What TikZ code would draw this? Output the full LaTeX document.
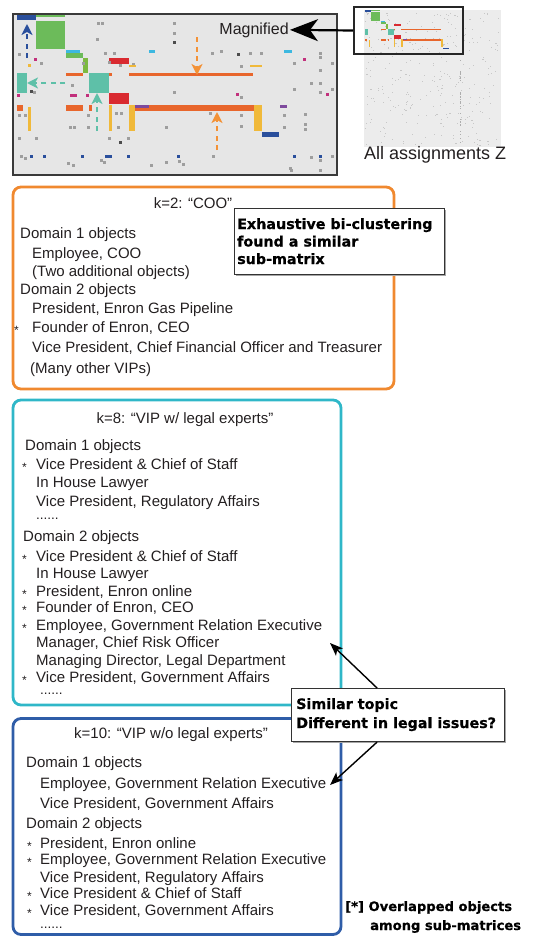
\documentclass[tikz,border=0pt]{standalone}
\usepackage{fontspec}
\setmainfont{Liberation Sans}
\newfontfamily\heavy{DejaVu Sans}[BoldFeatures={FakeBold=0.6}]
\usetikzlibrary{arrows.meta,calc}
\definecolor{txtc}{HTML}{231F20}
\definecolor{bgc}{HTML}{E6E6E6}
\definecolor{framec}{HTML}{3A3A3A}
\definecolor{cblue}{HTML}{2A4F9C}
\definecolor{cgreen}{HTML}{6CBB5A}
\definecolor{clime}{HTML}{7CB940}
\definecolor{ccyan}{HTML}{3DB8E0}
\definecolor{cteal}{HTML}{5EC0A8}
\definecolor{corange}{HTML}{E8662C}
\definecolor{carrow}{HTML}{F39237}
\definecolor{cred}{HTML}{D92A30}
\definecolor{cyellow}{HTML}{F0B93A}
\definecolor{cpurple}{HTML}{7E4A9D}
\definecolor{cmag}{HTML}{C2307C}
\definecolor{borange}{HTML}{F0892F}
\definecolor{bcyan}{HTML}{2FB7C8}
\definecolor{bblue}{HTML}{2F5DA8}
\newcommand\mtxblocks{%
  \fill[cblue] (17,15) rectangle (36,20);
  \fill[cgreen] (36,14.5) rectangle (65,17);
  \fill[cgreen] (36,21) rectangle (65,49);
  \fill[ccyan] (66,50) rectangle (80,52.5);
  \fill[cgreen] (66,52.5) rectangle (83,58);
  \fill[clime] (83,58) rectangle (88,73);
  \fill[cteal] (17,73) rectangle (27,93);
  \fill[cteal] (89,73) rectangle (109,93);
  \fill[corange] (66,73) rectangle (83,75.5);
  \fill[corange] (109,73) rectangle (112,75.5);
  \fill[corange] (129,73) rectangle (253,75.5);
  \fill[cred] (109,58) rectangle (129,64);
  \fill[cred] (109,93) rectangle (129,104);
  \fill[corange] (135,105) rectangle (254,111);
  \fill[corange] (66,105) rectangle (83,111);
  \fill[corange] (89,105) rectangle (92,111);
  \fill[corange] (17,105) rectangle (23,111);
  \fill[cpurple] (135,105) rectangle (149,107.5);
  \fill[cyellow] (129,105) rectangle (135,131);
  \fill[cyellow] (254,105) rectangle (262,131);
  \fill[cyellow] (109,105) rectangle (112,131);
  \fill[cyellow] (28,107) rectangle (31,131);
  \fill[cblue] (262,132) rectangle (279,137);
}
\begin{document}
\begin{tikzpicture}[x=1pt,y=-1pt,
  tx/.style={anchor=base west,inner sep=0pt,text=txtc,font=\fontsize{15}{18}\selectfont},
  ttl/.style={anchor=base,inner sep=0pt,text=txtc,font=\fontsize{15}{18}\selectfont},
  dots/.style={anchor=base west,inner sep=0pt,text=txtc,font=\fontsize{13.5}{14}\selectfont},
  starmark/.style={anchor=base west,inner sep=0pt,text=txtc,font=\fontsize{12}{12}\selectfont},
  heavytx/.style={anchor=base west,inner sep=0pt,text=black,font=\heavy\bfseries\fontsize{14.3}{17}\selectfont},
  callout/.style={draw=black!80,fill=white,line width=1.1pt,inner sep=0pt},
  kbox/.style={rounded corners=8pt,line width=2.8pt,inner sep=0pt},
  darr/.style={line width=2.6pt,dash pattern=on 5pt off 4.5pt,-{Stealth[length=11pt,width=11pt,inset=3pt]}},
  blkarr/.style={line width=1.4pt,-{Stealth[length=13pt,width=10pt,inset=3pt]}},
  gdot/.style={fill=black!38}]
\useasboundingbox (0,0) rectangle (559,937);
% ---------------- big magnified matrix ----------------
\node[fill=bgc,minimum width=324pt,minimum height=161pt,inner sep=0pt] (bigmat) at (175,94.5) {};
\mtxblocks
\foreach \x/\y in {97/22,101/22,173/22,173/32,96/38,104/52,113/52,211/52,220/50,249/52,260/52,18/53,40/62,82/62,108/61,119/64,240/65,71/84,33/91,173/91,240/96,293/88,18/114,24/114,87/114,115/112,120/112,209/112,240/114,69/126,73/126,87/126,117/126,165/126,240/125,283/126,18/137,35/137,108/137,127/137,20/155,24/157,67/162,72/164,100/159,103/161,150/164,165/161,182/163,212/155,289/167,310/156,319/52,319/56,319/69,310/82,319/82,319/91,293/62,331/62,331/88,304/113,304/123,304/128,283/114,331/155,290/169,319/169,319/159,132/63,178/160}
  {\fill[gdot] (\x,\y) rectangle ++(2.5,3);}
\foreach \x/\y in {173/41,237/53,119/141,30/90}
  {\fill[black!70] (\x,\y) rectangle ++(2.5,3);}
\fill[ccyan] (149,50) rectangle (155,52.5);
\fill[ccyan] (284,50) rectangle (292,52.5);
\fill[cyellow] (129,64.5) rectangle (136,67);
\fill[cyellow] (250,64.5) rectangle (262,67);
\fill[cyellow] (28,64) rectangle (30.5,67);
\fill[cmag] (34,58) rectangle (36.5,61);
\fill[cmag] (70,94) rectangle (77,96.5);
\fill[cmag] (86,94) rectangle (88.5,96.5);
\fill[cmag] (17,94) rectangle (19.5,96.5);
\fill[cmag] (236,93) rectangle (238.5,96);
\fill[cmag] (303,58) rectangle (306,61);
\fill[cmag] (326,93) rectangle (329,96);
\fill[cpurple] (280,104.5) rectangle (287,107.5);
\fill[cblue] (105,155) rectangle (112,157.5);
\foreach \x in {30,43,81,127,177,293,319}{\fill[cblue] (\x,155) rectangle ++(2.5,2.5);}
\draw[framec,line width=2.5pt] (bigmat.north west) rectangle (bigmat.south east);
% dashed arrows
\coordinate (ba1) at (27,58); \coordinate (ba2) at (27,24);
\coordinate (ta1) at (65,83); \coordinate (ta2) at (27,83);
\coordinate (tb1) at (97,131); \coordinate (tb2) at (97,93);
\coordinate (oa1) at (197,37); \coordinate (oa2) at (197,75);
\coordinate (ob1) at (217,150); \coordinate (ob2) at (217,112);
\draw[darr,cblue] (ba1) -- (ba2);
\draw[darr,cteal] (ta1) -- (ta2);
\draw[darr,cteal] (tb1) -- (tb2);
\draw[darr,carrow] (oa1) -- (oa2);
\draw[darr,carrow] (ob1) -- (ob2);
% ---------------- small full matrix ----------------
\node[fill=bgc!75,minimum width=137pt,minimum height=137pt,inner sep=0pt] (allz) at (432.5,78.5) {};
\pgfmathsetseed{11}
\foreach \i in {1,...,300}{
  \pgfmathsetmacro\rx{365+134*rnd}
  \pgfmathsetmacro\ry{12+133*rnd}
  \fill[black!22] (\rx,\ry) rectangle ++(1.1,1);
}
\foreach \i in {1,...,30}{
  \pgfmathsetmacro\ry{56+88*rnd}
  \fill[black!32] (460,\ry) rectangle ++(1,1.4);
}
\begin{scope}[shift={(359.6,5.3)},scale=0.32]
  \mtxblocks
\end{scope}
\node[draw=black!85,line width=2pt,minimum width=109pt,minimum height=47pt,inner sep=0pt] (zoombox) at (408.5,30.5) {};
\node[anchor=base west,inner sep=0pt,text=txtc,font=\fontsize{18}{20}\selectfont] (allzlabel) at (364,159.5) {All assignments Z};
\node[anchor=base east,inner sep=1pt,text=txtc,font=\fontsize{16}{18}\selectfont] (maglabel) at (290,34) {Magnified};
\draw[line width=2.2pt,-{Stealth[length=28pt,width=22pt,inset=8pt]}] (zoombox.west) -- (maglabel.east);
% ---------------- k=2 box ----------------
\node[kbox,draw=borange,minimum width=381pt,minimum height=202pt] (k2box) at (203.5,288) {};
\node[ttl] (k2t) at (193,208) {k=2: “COO”};
\node[tx] (k2a) at (20,238) {Domain 1 objects};
\node[tx] (k2b) at (32,258) {Employee, COO};
\node[tx] (k2c) at (32,276) {(Two additional objects)};
\node[tx] (k2d) at (20,294.5) {Domain 2 objects};
\node[tx] (k2e) at (32,313.5) {President, Enron Gas Pipeline};
\node[starmark] (k2s) at (14,334) {*};
\node[tx] (k2f) at (32,332.5) {Founder of Enron, CEO};
\node[tx] (k2g) at (32,352) {Vice President, Chief Financial Officer and Treasurer};
\node[tx] (k2h) at (30,373) {(Many other VIPs)};
% callout 1
\fill[black!35] (235.5,209.5) rectangle (445.5,275.5);
\node[callout,minimum width=210pt,minimum height=66pt,anchor=north west] (exbox) at (234,208) {};
\node[heavytx] (ex1) at (237,229) {Exhaustive bi-clustering};
\node[heavytx] (ex2) at (237,246.5) {found a similar};
\node[heavytx] (ex3) at (237,264) {sub-matrix};
% ---------------- k=8 box ----------------
\node[kbox,draw=bcyan,minimum width=328pt,minimum height=305pt] (k8box) at (177,552.5) {};
\node[ttl] (k8t) at (185,423) {k=8: “VIP w/ legal experts”};
\node[tx] (k8a) at (25,450) {Domain 1 objects};
\node[starmark] (k8s1) at (22,471) {*};
\node[tx] (k8b) at (36,469) {Vice President \& Chief of Staff};
\node[tx] (k8c) at (36,487) {In House Lawyer};
\node[tx] (k8d) at (36,506) {Vice President, Regulatory Affairs};
\node[dots] (k8e) at (36,519) {......};
\node[tx] (k8f) at (23,541) {Domain 2 objects};
\node[starmark] (k8s2) at (22,563) {*};
\node[tx] (k8g) at (36,561) {Vice President \& Chief of Staff};
\node[tx] (k8h) at (36,578) {In House Lawyer};
\node[starmark] (k8s3) at (22,598) {*};
\node[tx] (k8i) at (36,596) {President, Enron online};
\node[starmark] (k8s4) at (22,614) {*};
\node[tx] (k8j) at (36,612.5) {Founder of Enron, CEO};
\node[starmark] (k8s5) at (22,632) {*};
\node[tx] (k8k) at (36,630) {Employee, Government Relation Executive};
\node[tx] (k8l) at (36,647) {Manager, Chief Risk Officer};
\node[tx] (k8m) at (36,665) {Managing Director, Legal Department};
\node[starmark] (k8s6) at (22,684) {*};
\node[tx] (k8n) at (36,682) {Vice President, Government Affairs};
\node[dots] (k8o) at (40,694.5) {......};
% ---------------- k=10 box ----------------
\node[kbox,draw=bblue,minimum width=328pt,minimum height=216pt] (k10box) at (177,826.5) {};
\node[ttl] (k10t) at (171,738) {k=10: “VIP w/o legal experts”};
\node[tx] (k10a) at (26,767) {Domain 1 objects};
\node[tx] (k10b) at (40,788) {Employee, Government Relation Executive};
\node[tx] (k10c) at (40,808) {Vice President, Government Affairs};
\node[tx] (k10d) at (26,828) {Domain 2 objects};
\node[starmark] (k10s1) at (27,850) {*};
\node[tx] (k10e) at (40,848) {President, Enron online};
\node[starmark] (k10s2) at (27,866) {*};
\node[tx] (k10f) at (40,864.5) {Employee, Government Relation Executive};
\node[tx] (k10g) at (40,882) {Vice President, Regulatory Affairs};
\node[starmark] (k10s3) at (27,900) {*};
\node[tx] (k10h) at (40,898.5) {Vice President \& Chief of Staff};
\node[starmark] (k10s4) at (27,917) {*};
\node[tx] (k10i) at (40,915.5) {Vice President, Government Affairs};
\node[dots] (k10j) at (40,928.5) {......};
% callout 2
\fill[black!35] (292.5,689.5) rectangle (505.5,742.5);
\node[callout,minimum width=213pt,minimum height=53pt,anchor=north west] (simbox) at (291,688) {};
\node[heavytx] (sim1) at (296,709) {Similar topic};
\node[heavytx] (sim2) at (296,728) {Different in legal issues?};
\coordinate (tipA) at (330,643);
\coordinate (tipB) at (330,785);
\draw[blkarr] ($(simbox.north)+(-21,0)$) -- (tipA);
\draw[blkarr] ($(simbox.south)+(-21,0)$) -- (tipB);
% footnote
\node[anchor=base west,inner sep=0pt,text=black,font=\heavy\bfseries\fontsize{13.1}{15}\selectfont] (ov1) at (345,911) {[*] Overlapped objects};
\node[anchor=base west,inner sep=0pt,text=black,font=\heavy\bfseries\fontsize{13.1}{15}\selectfont] (ov2) at (370,930) {among sub-matrices};
\end{tikzpicture}
\end{document}
